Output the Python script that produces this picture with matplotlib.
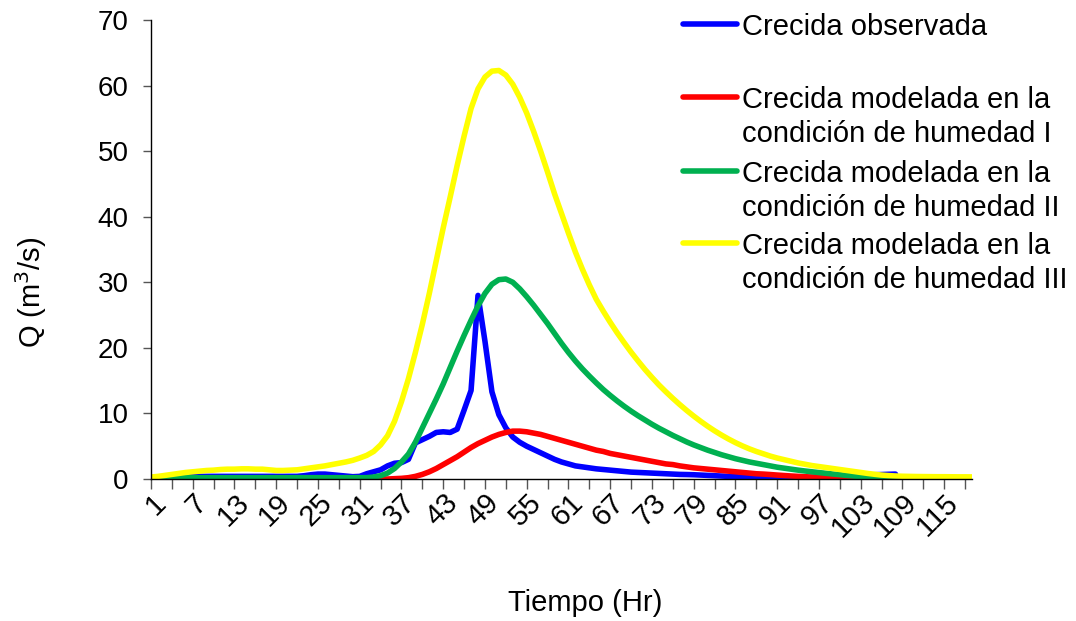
import numpy as np
import matplotlib
matplotlib.use("Agg")
import matplotlib.pyplot as plt
from matplotlib.lines import Line2D
from matplotlib.transforms import ScaledTranslation

plt.rcParams['font.family'] = ['Liberation Sans', 'DejaVu Sans']

# hours 1..119
hours = list(range(1, 120))

observada = [
    0.0, 0.0, 0.1, 0.2, 0.3, 0.4, 0.4, 0.4, 0.4, 0.4,
    0.4, 0.4, 0.4, 0.4, 0.4, 0.4, 0.4, 0.4, 0.4, 0.4,
    0.4, 0.4, 0.5, 0.65, 0.75, 0.75, 0.65, 0.55, 0.45, 0.35,
    0.4, 0.8, 1.1, 1.4, 2.0, 2.4, 2.5, 3.0, 5.5, 6.0,
    6.5, 7.1, 7.2, 7.1, 7.6, 10.5, 13.5, 28.0, 21.0, 13.3,
    9.8, 7.8, 6.4, 5.6, 5.0, 4.5, 4.0, 3.5, 3.0, 2.6,
    2.3, 2.0, 1.85, 1.7, 1.55, 1.45, 1.35, 1.25, 1.15, 1.05,
    1.0, 0.95, 0.9, 0.85, 0.8, 0.75, 0.7, 0.68, 0.65, 0.6,
    0.55, 0.5, 0.45, 0.4, 0.35, 0.3, 0.25, 0.2, 0.15, 0.12,
    0.1, 0.1, 0.12, 0.15, 0.2, 0.25, 0.3, 0.35, 0.4, 0.45,
    0.5, 0.55, 0.6, 0.62, 0.65, 0.68, 0.72, 0.75, None, None,
    None, None, None, None, None, None, None, None, None,
]

humedad_1 = [
    0.0, 0.0, 0.0, 0.0, 0.0, 0.0, 0.0, 0.0, 0.0, 0.0,
    0.0, 0.0, 0.0, 0.0, 0.0, 0.0, 0.0, 0.0, 0.0, 0.0,
    0.0, 0.0, 0.0, 0.0, 0.0, 0.0, 0.0, 0.0, 0.0, 0.0,
    0.0, 0.0, 0.0, 0.0, 0.0, 0.05, 0.1, 0.2, 0.4, 0.7,
    1.1, 1.6, 2.2, 2.8, 3.4, 4.1, 4.8, 5.4, 5.9, 6.4,
    6.8, 7.1, 7.3, 7.3, 7.2, 7.0, 6.8, 6.5, 6.2, 5.9,
    5.6, 5.3, 5.0, 4.7, 4.4, 4.2, 3.9, 3.7, 3.5, 3.3,
    3.1, 2.9, 2.7, 2.5, 2.3, 2.2, 2.0, 1.85, 1.7, 1.6,
    1.5, 1.4, 1.3, 1.2, 1.1, 1.0, 0.9, 0.8, 0.75, 0.68,
    0.6, 0.53, 0.46, 0.4, 0.35, 0.3, 0.27, 0.24, 0.21, 0.18,
    0.15, 0.12, 0.1, 0.08, 0.06, 0.05, 0.05, 0.05, 0.05, 0.05,
    0.05, 0.05, 0.05, 0.05, 0.05, 0.05, 0.05, 0.05, 0.05,
]

humedad_2 = [
    0.0, 0.0, 0.05, 0.1, 0.15, 0.2, 0.2, 0.2, 0.2, 0.2,
    0.2, 0.2, 0.2, 0.2, 0.2, 0.2, 0.2, 0.2, 0.2, 0.2,
    0.2, 0.2, 0.2, 0.2, 0.2, 0.2, 0.2, 0.2, 0.2, 0.2,
    0.2, 0.2, 0.3, 0.5, 0.9, 1.6, 2.6, 3.8, 5.6, 7.8,
    10.0, 12.2, 14.5, 17.0, 19.5, 21.9, 24.2, 26.4, 28.3, 29.7,
    30.4, 30.5, 30.0, 29.0, 27.8, 26.5, 25.1, 23.7, 22.2, 20.7,
    19.3, 18.0, 16.8, 15.7, 14.65, 13.65, 12.75, 11.9, 11.1, 10.35,
    9.65, 9.0, 8.35, 7.75, 7.2, 6.65, 6.15, 5.65, 5.2, 4.8,
    4.4, 4.05, 3.7, 3.4, 3.1, 2.85, 2.6, 2.4, 2.2, 2.0,
    1.8, 1.65, 1.5, 1.35, 1.22, 1.1, 0.98, 0.87, 0.76, 0.66,
    0.55, 0.45, 0.35, 0.27, 0.2, 0.15, 0.1, 0.1, 0.1, 0.1,
    0.1, 0.1, 0.1, 0.1, 0.1, 0.1, 0.1, 0.1, 0.1,
]

humedad_3 = [
    0.3, 0.4, 0.55, 0.7, 0.85, 1.0, 1.1, 1.2, 1.3, 1.35,
    1.45, 1.5, 1.5, 1.55, 1.55, 1.5, 1.5, 1.4, 1.3, 1.3,
    1.35, 1.4, 1.55, 1.7, 1.85, 2.0, 2.2, 2.4, 2.6, 2.85,
    3.2, 3.6, 4.2, 5.2, 6.6, 8.8, 11.8, 15.3, 19.3, 23.6,
    28.3, 33.3, 38.3, 43.0, 47.8, 52.3, 56.5, 59.5, 61.3, 62.2,
    62.3, 61.6, 60.2, 58.2, 55.8, 53.0, 50.0, 46.8, 43.5, 40.5,
    37.5, 34.6, 32.0, 29.6, 27.4, 25.6, 23.9, 22.3, 20.8, 19.35,
    18.0, 16.7, 15.5, 14.35, 13.3, 12.3, 11.35, 10.45, 9.6, 8.8,
    8.05, 7.35, 6.7, 6.1, 5.55, 5.05, 4.6, 4.2, 3.85, 3.5,
    3.2, 2.95, 2.7, 2.45, 2.25, 2.05, 1.9, 1.75, 1.6, 1.45,
    1.3, 1.15, 1.0, 0.85, 0.72, 0.6, 0.52, 0.46, 0.42, 0.4,
    0.38, 0.37, 0.36, 0.35, 0.35, 0.34, 0.33, 0.33, 0.32,
]

labels = [
    ["Crecida observada"],
    ["Crecida modelada en la", "condición de humedad I"],
    ["Crecida modelada en la", "condición de humedad II"],
    ["Crecida modelada en la", "condición de humedad III"],
]
colors = ["#0000FF", "#FF0000", "#00B050", "#FFFF00"]
series = [observada, humedad_1, humedad_2, humedad_3]

fig = plt.figure(figsize=(10.76, 6.21), dpi=100)
ax = fig.add_axes([151 / 1076, 142 / 621, 821 / 1076, 459 / 621])

for vals, c in zip(series, colors):
    y = np.array([np.nan if v is None else v for v in vals], dtype=float)
    ax.plot(hours, y, color=c, lw=4.0, solid_joinstyle="round",
            solid_capstyle="round")

ax.set_xlim(1, 119)
ax.set_ylim(0, 70)
ax.set_yticks(range(0, 71, 10))
ax.set_xticks(range(1, 120, 3))
ax.set_xticklabels([str(h) if (h - 1) % 6 == 0 else "" for h in range(1, 120, 3)])

for s in ["top", "right"]:
    ax.spines[s].set_visible(False)
for s in ["left", "bottom"]:
    ax.spines[s].set_linewidth(1.0)

ax.tick_params(axis="y", direction="out", length=6, width=1, color="#555555",
               labelsize=20, pad=10)
ax.tick_params(axis="x", direction="out", length=7, width=1, color="#555555",
               labelsize=21, pad=7)

off = ScaledTranslation(10 / 100, 0, fig.dpi_scale_trans)
for lab in ax.get_xticklabels():
    lab.set_rotation(45)
    lab.set_ha("right")
    lab.set_va("center")
    lab.set_rotation_mode("anchor")
    lab.set_transform(lab.get_transform() + off)

fig.text(31 / 1076, 1 - 292 / 621, "Q (m$^3$/s)", rotation=90,
         ha="center", va="center", fontsize=21)
fig.text(585 / 1076, 1 - 603 / 621, "Tiempo (Hr)", ha="center", va="center",
         fontsize=21)

# legend (Excel style: marker next to the first text line)
leg_y = [24, 97, 171, 243]
for ly, lines, c in zip(leg_y, labels, colors):
    fy = 1 - ly / 621
    fig.add_artist(Line2D([683 / 1076, 737 / 1076], [fy, fy], color=c, lw=4.0,
                          solid_capstyle="round"))
    for k, txt in enumerate(lines):
        fig.text(742 / 1076, 1 - (ly + 11 + 34 * k) / 621, txt, ha="left",
                 va="baseline", fontsize=21)

fig.savefig("out.png", dpi=100)
